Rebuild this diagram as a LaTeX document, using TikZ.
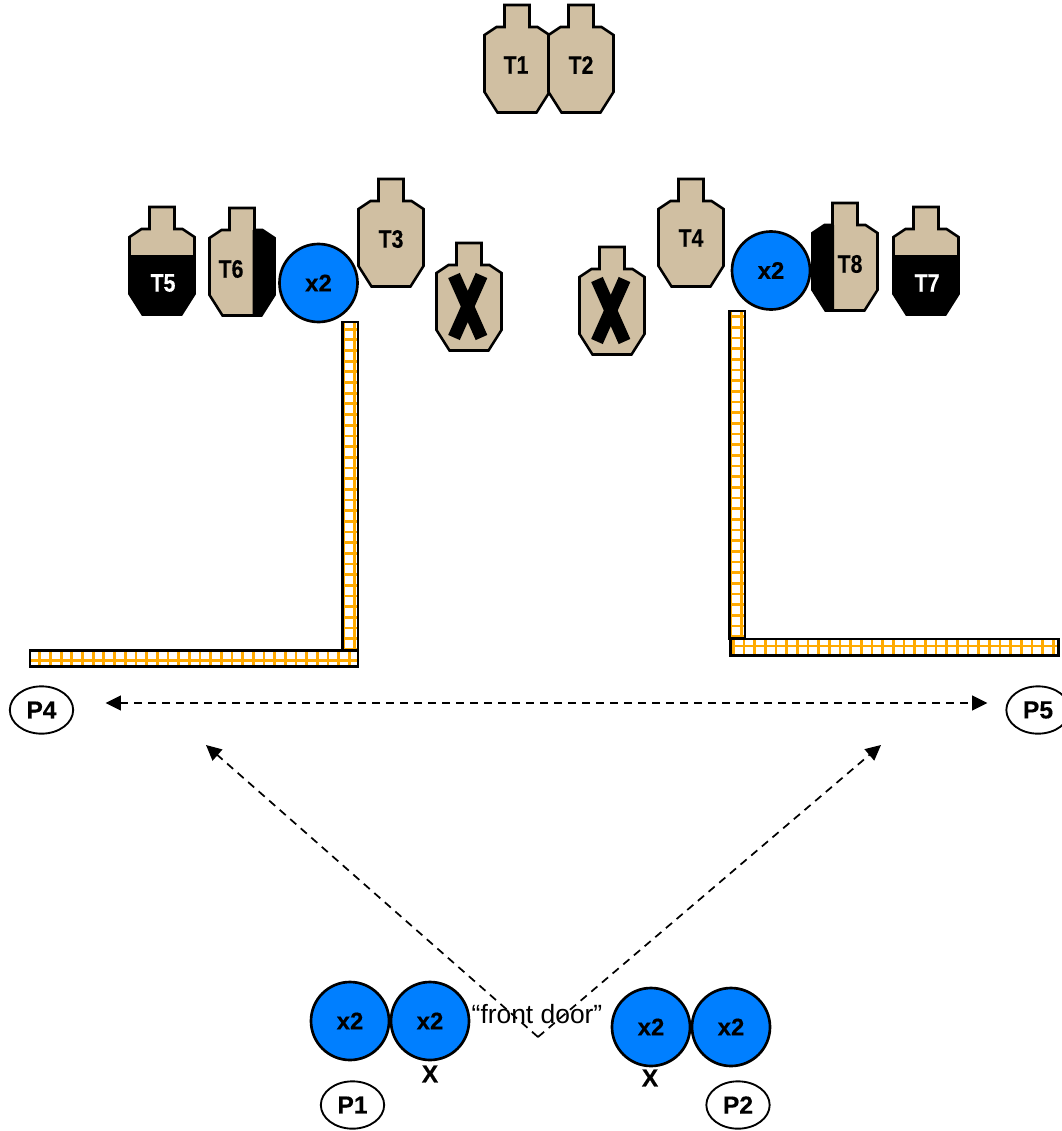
\documentclass[tikz,border=0pt]{standalone}
\usepackage{fontspec}
\setmainfont[BoldFeatures={FakeBold=0.35}]{Liberation Sans}
\usetikzlibrary{arrows.meta,shapes.geometric}
\definecolor{tan}{HTML}{D0BFA2}
\definecolor{disc}{HTML}{007FFF}
\definecolor{wallgrid}{HTML}{FFAA00}
\newcommand{\tgtpath}{(20,0) -- (45,0) -- (45,22) -- (53,22) -- (65,30) -- (65,87) -- (52,107.5) -- (13,107.5) -- (0,87) -- (0,30) -- (12,22) -- (20,22) -- cycle}
\tikzset{
  outline/.style={draw=black,line width=1.9pt,line join=miter},
  tlabel/.style={font=\fontsize{19}{21}\selectfont\bfseries,inner sep=0pt,text=black},
  tlabelw/.style={tlabel,text=white},
  disclabel/.style={circle,draw=black,line width=2pt,fill=disc,minimum size=58.5pt,inner sep=0pt,font=\fontsize{18}{20}\selectfont\bfseries},
  plabel/.style={ellipse,draw=black,line width=1.4pt,fill=white,minimum width=47.5pt,minimum height=35.5pt,inner sep=0pt,font=\fontsize{18.5}{20}\selectfont\bfseries},
  xmark/.style={font=\fontsize{18.5}{20}\selectfont\bfseries,inner sep=0pt},
  doortext/.style={font=\fontsize{19.8}{22}\selectfont,inner sep=0pt},
  route/.style={dash pattern=on 6pt off 4.5pt,line width=1.3pt,draw=black},
  routetip/.style={-{Triangle[length=11.5pt,width=11pt]}},
  routetips/.style={{Triangle[length=11.5pt,width=11pt]}-{Triangle[length=11.5pt,width=11pt]}},
  wallgridline/.style={draw=wallgrid,line width=2.1pt},
  wallbox/.style={draw=black,line width=1.8pt},
}
% \wall{x1}{y1}{x2}{y2}{grid x}{grid y}
\newcommand{\wall}[6]{%
  \fill[white] (#1,#2) rectangle (#3,#4);
  \begin{scope}
    \clip (#1,#2) rectangle (#3,#4);
    \foreach \k in {-32,...,32}{
      \draw[wallgridline] ({#5+\k*10.67},#2) -- ({#5+\k*10.67},#4);
      \draw[wallgridline] (#1,{#6+\k*10.67}) -- (#3,{#6+\k*10.67});
    }
  \end{scope}
  \draw[wallbox] (#1,#2) rectangle (#3,#4);
}
\begin{document}
\begin{tikzpicture}[x=0.75pt,y=-0.75pt]
\useasboundingbox (0,0) rectangle (1062,1131);

% walls
\wall{342.5}{322}{358}{650}{344}{649.3}
\wall{30}{650.5}{358}{666.5}{349.3}{660.3}
\wall{729.5}{311}{745}{638.5}{731}{636.7}
\wall{730.5}{639}{1058.5}{655.5}{733.3}{646}

% plain targets
\begin{scope}[shift={(484.5,5)}] \draw[outline,fill=tan] \tgtpath; \end{scope}
\begin{scope}[shift={(548.5,5)}] \draw[outline,fill=tan] \tgtpath; \end{scope}
\begin{scope}[shift={(358.5,179)}] \draw[outline,fill=tan] \tgtpath; \end{scope}
\begin{scope}[shift={(658.5,179)}] \draw[outline,fill=tan] \tgtpath; \end{scope}

% T5, lower part black
\begin{scope}[shift={(129.5,207)}]
  \fill[tan] \tgtpath;
  \begin{scope} \clip (-2,48) rectangle (67,110); \fill[black] \tgtpath; \end{scope}
  \draw[outline] \tgtpath;
\end{scope}
% T7, lower part black
\begin{scope}[shift={(893.5,207)}]
  \fill[tan] \tgtpath;
  \begin{scope} \clip (-2,48) rectangle (67,110); \fill[black] \tgtpath; \end{scope}
  \draw[outline] \tgtpath;
\end{scope}
% T6, right part black
\begin{scope}[shift={(209.5,208)}]
  \fill[tan] \tgtpath;
  \begin{scope} \clip (43,22) rectangle (67,110); \fill[black] \tgtpath; \end{scope}
  \draw[outline] \tgtpath;
\end{scope}
% T8, left part black
\begin{scope}[shift={(812.5,203)}]
  \fill[tan] \tgtpath;
  \begin{scope} \clip (-2,22) rectangle (21.5,110); \fill[black] \tgtpath; \end{scope}
  \draw[outline] \tgtpath;
\end{scope}

% crossed targets
\begin{scope}[shift={(436.5,243)}]
  \draw[outline,fill=tan] \tgtpath;
  \draw[line width=9.5pt] (17.5,32.5) -- (45,94.5) (45,32.5) -- (17.5,94.5);
\end{scope}
\begin{scope}[shift={(579.5,247)}]
  \draw[outline,fill=tan] \tgtpath;
  \draw[line width=9.5pt] (17.5,32.5) -- (45,94.5) (45,32.5) -- (17.5,94.5);
\end{scope}

% target labels
\node[tlabel] (t1) at (516,65) {\scalebox{.84}[1]{T1}};
\node[tlabel] (t2) at (581,65) {\scalebox{.84}[1]{T2}};
\node[tlabel] (t3) at (391,239) {\scalebox{.84}[1]{T3}};
\node[tlabel] (t4) at (691,238) {\scalebox{.84}[1]{T4}};
\node[tlabelw] (t5) at (163,283) {\scalebox{.84}[1]{T5}};
\node[tlabel] (t6) at (231,269) {\scalebox{.84}[1]{T6}};
\node[tlabelw] (t7) at (927,283) {\scalebox{.84}[1]{T7}};
\node[tlabel] (t8) at (850,264) {\scalebox{.84}[1]{T8}};

% routes
\coordinate (vtip) at (538,1037);
\coordinate (vleft) at (206,745);
\coordinate (vright) at (881,745);
\coordinate (hleft) at (105.5,703);
\coordinate (hright) at (987.5,703);
\draw[route,routetips] (hleft) -- (hright);
\draw[route,routetip] (vtip) -- (vleft);
\draw[route,routetip] (vtip) -- (vright);

% discs
\node[disclabel] (d1) at (318.5,283) {x2};
\node[disclabel] (d2) at (771,270.5) {x2};
\node[disclabel] (d3) at (350,1021) {x2};
\node[disclabel] (d4) at (430,1021) {x2};
\node[disclabel] (d5) at (651,1027) {x2};
\node[disclabel] (d6) at (731,1027) {x2};

% other labels
\node[xmark] (x1) at (430,1074) {X};
\node[xmark] (x2) at (650,1078) {X};
\node[doortext] (door) at (537,1014) {“front door”};

% positions
\node[plabel] (p1) at (352.5,1105) {P1};
\node[plabel] (p2) at (738,1105) {P2};
\node[plabel] (p4) at (41.5,710) {P4};
\node[plabel] (p5) at (1038,710) {P5};
\end{tikzpicture}
\end{document}
